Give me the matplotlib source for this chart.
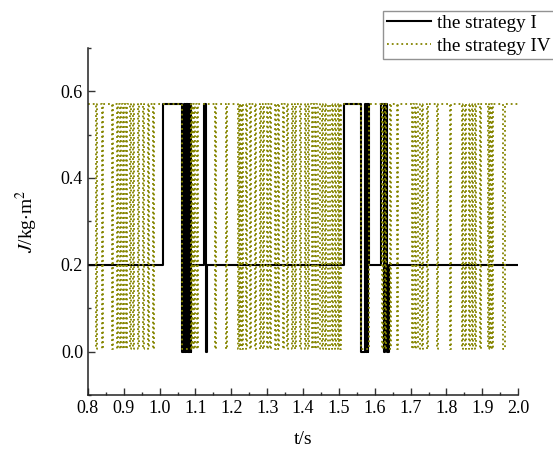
import matplotlib
matplotlib.use("Agg")
from matplotlib import pyplot as plt
from matplotlib.ticker import MultipleLocator

plt.rcParams['font.family'] = ['Liberation Serif', 'DejaVu Serif']
plt.rcParams['mathtext.fontset'] = 'stix'

# strategy I: switching times and levels (step, post)
t_I = [0.8, 1.010, 1.061, 1.069, 1.071, 1.073, 1.075, 1.077, 1.079, 1.081, 1.083, 1.085, 1.087,
       1.088, 1.125, 1.130, 1.133, 1.513, 1.562, 1.574, 1.576, 1.578, 1.580, 1.582,
       1.583, 1.618, 1.625, 1.629, 1.634, 1.639, 2.0]
J_I = [0.2, 0.57, 0.0, 0.57, 0.0, 0.57, 0.0, 0.57, 0.0, 0.57, 0.0, 0.57, 0.0,
       0.2, 0.57, 0.0, 0.2, 0.57, 0.0, 0.57, 0.0, 0.57, 0.0, 0.57,
       0.2, 0.57, 0.0, 0.57, 0.0, 0.2, 0.2]

# strategy IV: stays at the high level, drops to zero between these times
dip_start = [0.822, 0.840, 0.868, 0.881, 0.890, 0.898, 0.907, 0.916, 0.926, 0.940, 0.953, 0.967,
             0.981, 1.062, 1.091, 1.096, 1.103, 1.154, 1.186, 1.219, 1.224, 1.229, 1.242, 1.252,
             1.266, 1.280, 1.289, 1.299, 1.308, 1.322, 1.331, 1.345, 1.354, 1.368, 1.377, 1.391,
             1.405, 1.415, 1.424, 1.434, 1.443, 1.452, 1.461, 1.471, 1.480, 1.489, 1.498, 1.504,
             1.562, 1.619, 1.628, 1.642, 1.661, 1.703, 1.712, 1.722, 1.731, 1.745, 1.773, 1.810,
             1.843, 1.852, 1.862, 1.871, 1.880, 1.894, 1.917, 1.922, 1.926, 1.959]
dip_end = [0.826, 0.843, 0.871, 0.884, 0.893, 0.901, 0.910, 0.919, 0.929, 0.943, 0.956, 0.970,
           0.984, 1.088, 1.094, 1.099, 1.106, 1.157, 1.189, 1.222, 1.227, 1.232, 1.245, 1.255,
           1.269, 1.283, 1.292, 1.302, 1.311, 1.325, 1.334, 1.348, 1.357, 1.371, 1.380, 1.394,
           1.408, 1.418, 1.427, 1.437, 1.446, 1.455, 1.464, 1.474, 1.483, 1.492, 1.501, 1.507,
           1.583, 1.622, 1.631, 1.645, 1.664, 1.706, 1.715, 1.725, 1.734, 1.748, 1.776, 1.813,
           1.846, 1.855, 1.865, 1.874, 1.883, 1.897, 1.920, 1.925, 1.929, 1.962]
J_high = 0.57
J_low = 0.005

t_IV = [0.8]
J_IV = [J_high]
for s, e in zip(dip_start, dip_end):
    t_IV += [s, s, e, e]
    J_IV += [J_high, J_low, J_low, J_high]
t_IV.append(2.0)
J_IV.append(J_high)

fig = plt.figure(figsize=(5.53, 4.55), dpi=100)
ax = fig.add_axes([0.159, 0.132, 0.778, 0.763])

ax.step(t_I, J_I, where='post', color='black', linewidth=1.5, label='the strategy I')
ax.plot(t_IV, J_IV, color='#858500', linestyle=':', linewidth=1.3, label='the strategy IV')

ax.set_xlim(0.8, 2.0)
ax.set_ylim(-0.1, 0.7)
ax.xaxis.set_major_locator(MultipleLocator(0.1))
ax.xaxis.set_minor_locator(MultipleLocator(0.05))
ax.yaxis.set_major_locator(MultipleLocator(0.2))
ax.yaxis.set_minor_locator(MultipleLocator(0.1))
ax.set_yticks([0.0, 0.2, 0.4, 0.6])
ax.tick_params(which='major', direction='in', length=5, width=1, labelsize=13, color='#333333')
ax.tick_params(which='minor', direction='in', length=2.5, width=1, color='#333333')
for side in ['top', 'right']:
    ax.spines[side].set_visible(False)
for side in ['left', 'bottom']:
    ax.spines[side].set_color('#222222')
    ax.spines[side].set_linewidth(1.1)

ax.set_xlabel('t/s', fontsize=14, labelpad=10)
ax.set_ylabel(r'$J$/kg$\cdot$m$^2$', fontsize=14, labelpad=15)

leg = ax.legend(loc='upper left', bbox_to_anchor=(0.686, 1.107), fontsize=13.8, frameon=True,
                fancybox=False, handlelength=2.3, borderpad=0.2, labelspacing=0.3,
                handletextpad=0.3, borderaxespad=0)
leg.get_frame().set_edgecolor('#777777')
leg.get_frame().set_linewidth(1.0)

fig.savefig('out.png', dpi=100)
